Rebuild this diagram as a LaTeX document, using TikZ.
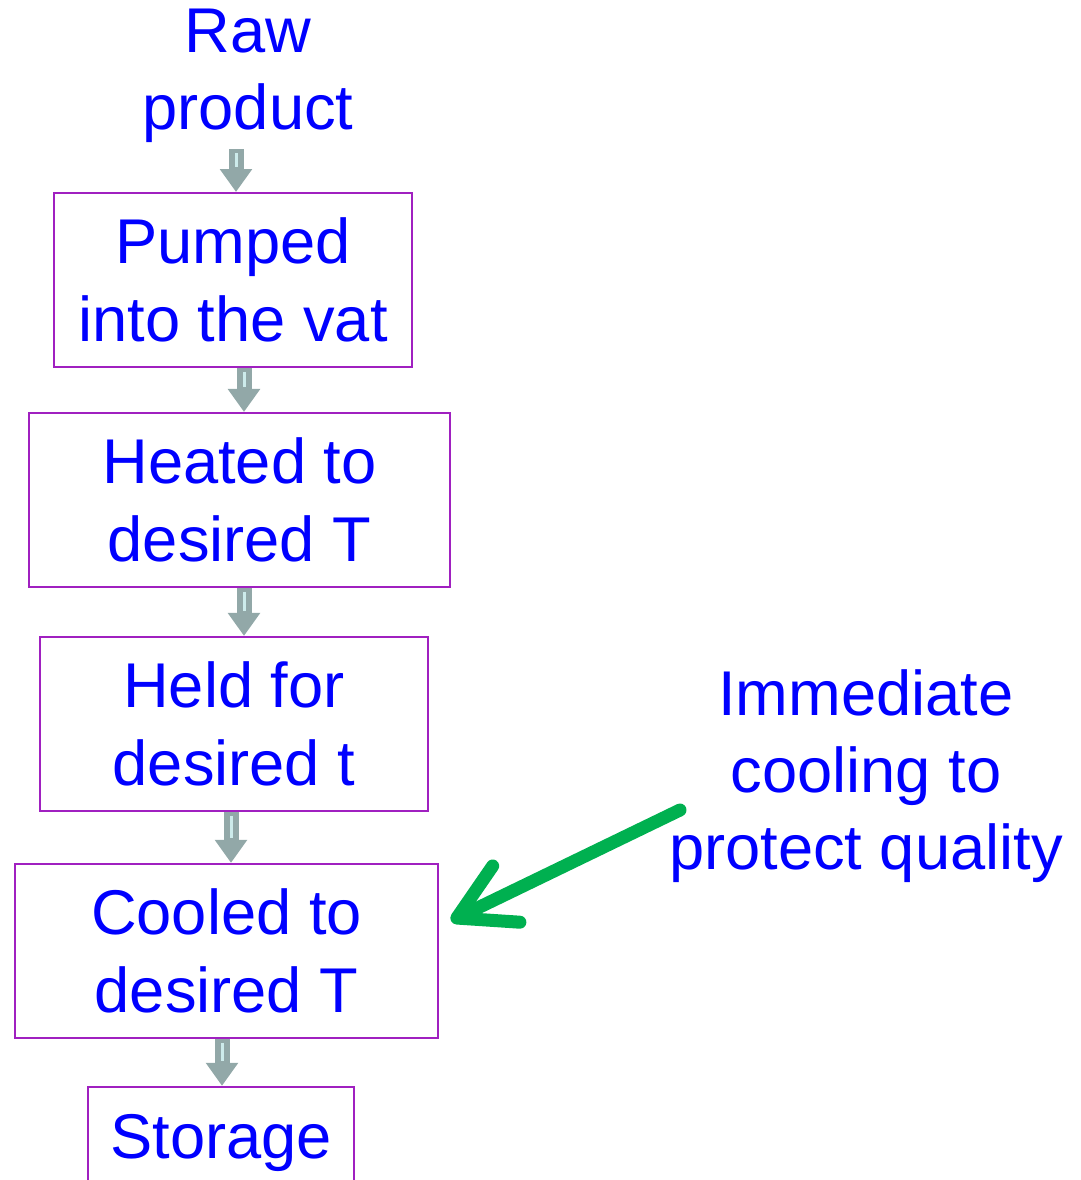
\documentclass[tikz,border=0pt]{standalone}
\usepackage{fontspec}
\setmainfont{Liberation Sans}
\usetikzlibrary{arrows.meta,positioning}
\definecolor{txtblue}{RGB}{0,0,255}
\definecolor{boxpurple}{RGB}{160,32,192}
\definecolor{arrgrey}{RGB}{146,168,168}
\definecolor{arrcore}{RGB}{205,235,235}
\definecolor{hotgreen}{RGB}{0,176,80}
\tikzset{
  label_t/.style = {align=center, text=txtblue, inner sep=0pt,
    font=\fontsize{36}{44}\selectfont},% plain text
  step_b/.style = {label_t, draw=boxpurple, line width=0.04cm,
    minimum height=3.48cm},% process box
  flow_a/.style = {arrgrey, line width=0.3cm,
    -{Triangle[length=0.46cm, width=0.62cm]}},% grey block arrow
  flow_c/.style = {arrcore, line width=0.06cm, shorten >=0.5cm,
    shorten <=0.08cm},% light core of the block arrow
  hot_a/.style = {hotgreen, line width=0.26cm, line cap=round,
    -{Straight Barb[length=1.1cm, width=1.25cm, round]}}% green arrow
}
\begin{document}
\begin{tikzpicture}[x=0.02cm, y=-0.02cm]
        \useasboundingbox (0,0) rectangle (1080,1180);

        \node [label_t, inner ysep=0.12cm](raw) at (248,76){Raw\\product};
        \node [step_b, minimum width=7.16cm](pumped) at (233,280){Pumped\\into the vat};
        \node [step_b, minimum width=8.42cm, below=0.88cm of pumped, xshift=0.13cm](heated){Heated to\\desired T};
        \node [step_b, minimum width=7.76cm, below=0.96cm of heated, xshift=-0.11cm](held){Held for\\desired t};
        \node [step_b, minimum width=8.46cm, below=1.02cm of held, xshift=-0.15cm](cooled){Cooled to\\desired T};
        \node [step_b, minimum width=5.32cm, minimum height=2.24cm, below=0.94cm of cooled, xshift=-0.11cm](storage){Storage};
        \node [label_t](hint) at (866,776){Immediate\\cooling to\\protect quality};

        \foreach \a/\b/\x in {raw/pumped/236, pumped/heated/244, heated/held/244, held/cooled/231, cooled/storage/222}{
          \draw [flow_a] (\x,0 |- \a.south) -- (\x,0 |- \b.north);
          \draw [flow_c] (\x,0 |- \a.south) -- (\x,0 |- \b.north);
        }

        \coordinate (hintend) at (680,810);
        \draw [hot_a] (hintend) -- ([xshift=0.24cm, yshift=0.6cm]cooled.east);

        \end{tikzpicture}
\end{document}
